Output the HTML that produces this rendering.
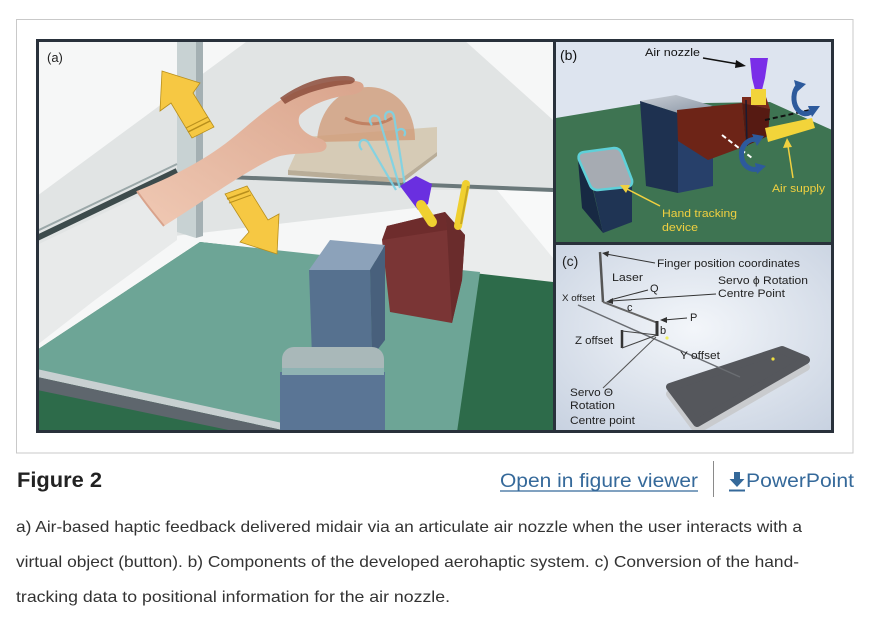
<!DOCTYPE html>
<html><head><meta charset="utf-8"><style>
html,body{margin:0;padding:0;background:#fff;width:872px;height:625px;overflow:hidden}
svg{display:block}
</style></head><body>
<svg width="872" height="625" viewBox="0 0 872 625" xmlns="http://www.w3.org/2000/svg" font-family="'Liberation Sans', Arial, sans-serif">
<defs>
<clipPath id="ca"><rect x="39" y="42" width="514" height="388"/></clipPath>
<clipPath id="cb"><rect x="556" y="42" width="275" height="200"/></clipPath>
<clipPath id="cc"><rect x="556" y="245" width="275" height="185"/></clipPath>
<radialGradient id="gc" cx="0.5" cy="0.45" r="0.75"><stop offset="0" stop-color="#f3f6fa"/><stop offset="1" stop-color="#c7d1e0"/></radialGradient>
<linearGradient id="skin" x1="0" y1="1" x2="1" y2="0"><stop offset="0" stop-color="#f0c9b4"/><stop offset="1" stop-color="#d9a48c"/></linearGradient>
<linearGradient id="navytop" x1="0" y1="0" x2="1" y2="1"><stop offset="0" stop-color="#c9ced5"/><stop offset="1" stop-color="#8a96a6"/></linearGradient>
</defs>
<rect width="872" height="625" fill="#fff"/>
<rect x="16.5" y="19.5" width="836.5" height="433.5" fill="none" stroke="#c9c9c9"/>
<rect x="36" y="39" width="798" height="394" fill="#29313b"/>

<!-- PANEL A -->
<g clip-path="url(#ca)">
<rect x="38" y="41" width="516" height="390" fill="#f6f7f7"/>
<polygon points="250,39 463,39 553,120 553,192 37,252 37,196" fill="#e1e4e4"/>
<polygon points="37,245 177,178 177,240 95,300 37,345" fill="#e8eaea"/>
<polygon points="420,190 553,190 553,286 460,276" fill="#eaecec"/>
<polygon points="497,190 553,190 553,258" fill="#f8f9f9"/>
<polygon points="200,242 553,282 553,432 37,432 37,350" fill="#2d6b4a"/>
<polygon points="200,242 480,272 457,432 300,432 37,372 37,350" fill="#6da596"/>
<polygon points="37,369 305,428 305,435 37,377" fill="#c8d0d1"/>
<polygon points="37,377 305,435 305,446 37,390" fill="#5e666d"/>
<!-- pole -->
<polygon points="177,39 196,39 196,238 177,232" fill="#c8d2d3"/>
<polygon points="196,39 203,39 203,236 196,238" fill="#a4b0b3"/>
<!-- rods -->
<line x1="37" y1="238" x2="177" y2="171" stroke="#3d4b4c" stroke-width="6"/>
<line x1="37" y1="231" x2="177" y2="164" stroke="#9aa7a8" stroke-width="2"/>
<line x1="203" y1="176" x2="553" y2="190" stroke="#6a787a" stroke-width="4"/>
<!-- button plate & dome -->
<polygon points="288,170 303,137 437,127 437,152 402,178" fill="#d5c9b2" opacity="0.92"/>
<polygon points="288,170 402,178 437,152 437,156 402,183 288,175" fill="#b9ad98"/>
<path d="M317,142 C318,110 340,87 368,87 C395,87 415,108 415,140 Z" fill="#d19c7b" opacity="0.8"/>
<path d="M345,118 C360,126 380,126 392,118" stroke="#b86f50" stroke-width="3" fill="none" opacity="0.7"/>
<!-- swirls -->
<g stroke="#7cd3e6" stroke-width="2.2" fill="none" opacity="0.9">
<path d="M372,125 C366,118 374,112 379,118 L400,188"/>
<path d="M386,120 C382,112 392,108 394,116 L405,186"/>
<path d="M362,150 C356,144 362,136 368,142 L396,190"/>
<path d="M396,132 C400,126 408,130 404,136"/>
</g>
<!-- hand -->
<path d="M137,191 C170,178 205,160 230,140 C255,120 275,100 300,90 C320,82 345,78 360,82 C368,86 362,94 350,95 C330,97 310,105 300,115 C295,125 305,135 318,138 C328,140 330,150 320,152 C300,155 285,152 270,160 C245,172 205,200 164,226 C155,215 145,203 137,191 Z" fill="url(#skin)"/>
<path d="M280,98 C300,84 320,76 345,76 C356,76 358,82 350,84 C330,86 305,92 285,104 Z" fill="#8d4d3c" opacity="0.85"/>
<path d="M137,191 C145,203 155,215 164,226" stroke="#d9a38c" stroke-width="2" fill="none"/>
<!-- arrows -->
<polygon points="162,71 200,83 193,93 214,127 192,138 171,103 160,111" fill="#f6c843" stroke="#b88f1c" stroke-width="0.8"/>
<line x1="188" y1="132" x2="210" y2="121" stroke="#b88f1c" stroke-width="1.5"/>
<line x1="186" y1="128" x2="208" y2="117" stroke="#b88f1c" stroke-width="1"/>
<polygon points="225,194 247,186 268,220 279,214 277,254 240,242 249,232" fill="#f6c843" stroke="#b88f1c" stroke-width="0.8"/>
<line x1="227" y1="199" x2="249" y2="191" stroke="#b88f1c" stroke-width="1.5"/>
<line x1="229" y1="203" x2="251" y2="195" stroke="#b88f1c" stroke-width="1"/>
<!-- red box -->
<polygon points="387,226 445,212 465,235 462,280 452,323 390,312 382,240" fill="#7a3535"/>
<polygon points="445,212 465,235 462,280 452,323 447,230" fill="#6a2c2c"/>
<polygon points="387,226 445,212 447,230 382,240" fill="#6e2c2c"/>
<!-- nozzle -->
<polygon points="400,186 416,176 432,184 428,204 418,210" fill="#6a2fe0"/>
<line x1="421" y1="205" x2="432" y2="222" stroke="#f0d030" stroke-width="10" stroke-linecap="round"/>
<line x1="466" y1="184" x2="458" y2="226" stroke="#f0d030" stroke-width="8" stroke-linecap="round"/>
<line x1="468" y1="186" x2="461" y2="224" stroke="#c9a820" stroke-width="2"/>
<!-- blue box -->
<polygon points="309,270 330,240 385,245 370,270" fill="#8ca2ba"/>
<polygon points="309,270 370,270 372,357 312,357" fill="#56718f"/>
<polygon points="370,270 385,245 385,340 372,357" fill="#48607c"/>
<!-- bottom device -->
<rect x="282" y="347" width="102" height="32" rx="12" fill="#a9b8b9"/>
<rect x="280" y="372" width="105" height="62" fill="#5a7595"/>
<rect x="282" y="368" width="102" height="7" fill="#8fb3b3"/>
<text x="47" y="62" font-size="13" fill="#222">(a)</text>
</g>

<!-- PANEL B -->
<g clip-path="url(#cb)">
<rect x="556" y="41" width="276" height="202" fill="#dde4ef"/>
<polygon points="556,118 640,104 770,102 832,130 832,242 556,242" fill="#3e7452"/>
<polygon points="640,101 676,95 713,106 678,113" fill="url(#navytop)"/>
<polygon points="640,101 678,113 678,193 646,186" fill="#1e3150"/>
<polygon points="678,113 713,106 713,186 678,193" fill="#27406a"/>
<polygon points="677,110 742,103 746,146 708,160 678,141" fill="#6d2417"/>
<polygon points="742,103 770,109 768,136 746,146" fill="#561a12"/>
<polygon points="742,97 766,97 770,109 742,103" fill="#7a2a1c"/>
<line x1="746" y1="100" x2="747" y2="146" stroke="#1a1a30" stroke-width="1.5"/>
<polygon points="750,58 768,58 765,78 762,90 755,90 752,78" fill="#7a2ee8"/>
<rect x="751" y="89" width="15" height="16" fill="#f2d43a"/>
<polygon points="765,128 812,118 815,128 768,142" fill="#f2d43a"/>
<line x1="765" y1="120" x2="810" y2="110" stroke="#111" stroke-width="2" stroke-dasharray="5,3"/>
<line x1="722" y1="135" x2="752" y2="158" stroke="#fff" stroke-width="2" stroke-dasharray="5,3"/>
<path d="M798,86 A11,15 0 1 0 813,110" stroke="#2d5a9c" stroke-width="5" fill="none"/>
<polygon points="794,80 806,84 797,92" fill="#2d5a9c"/>
<polygon points="808,106 820,106 812,117" fill="#2d5a9c"/>
<path d="M758,140 A13,15 0 1 0 760,168" stroke="#2d5a9c" stroke-width="5" fill="none"/>
<polygon points="752,134 764,136 757,146" fill="#2d5a9c"/>
<polygon points="755,163 766,166 757,174" fill="#2d5a9c"/>
<!-- tracking device -->
<polygon points="578,160 593,190 603,233 582,208" fill="#172943"/>
<polygon points="593,188 632,183 632,222 603,233" fill="#1f3454"/>
<path d="M584,152 L614,148 Q620,148 622,154 L632,180 Q633,186 627,187 L598,190 Q592,190 590,185 L579,160 Q577,153 584,152 Z" fill="#a6abb2" stroke="#5fd0d8" stroke-width="2.5"/>
<text x="560" y="60" font-size="14" fill="#111">(b)</text>
<text x="645" y="56" font-size="11" fill="#111" textLength="55" lengthAdjust="spacingAndGlyphs">Air nozzle</text>
<line x1="703" y1="58" x2="738" y2="64" stroke="#111" stroke-width="1.5"/>
<polygon points="746,66 736,60 735,68" fill="#111"/>
<text x="772" y="192" font-size="11" fill="#f0d040" textLength="53" lengthAdjust="spacingAndGlyphs">Air supply</text>
<line x1="793" y1="178" x2="788" y2="146" stroke="#f0d040" stroke-width="1.5"/>
<polygon points="787,138 783,148 792,147" fill="#f0d040"/>
<text x="662" y="217" font-size="11" fill="#f0d040" textLength="75" lengthAdjust="spacingAndGlyphs">Hand tracking</text>
<text x="662" y="231" font-size="11" fill="#f0d040" textLength="36" lengthAdjust="spacingAndGlyphs">device</text>
<line x1="660" y1="206" x2="627" y2="189" stroke="#f0d040" stroke-width="1.5"/>
<polygon points="620,185 630,185 626,193" fill="#f0d040"/>
</g>

<!-- PANEL C -->
<g clip-path="url(#cc)">
<rect x="556" y="244" width="276" height="188" fill="url(#gc)"/>
<!-- slab -->
<path d="M670,394 L782,357 L806,367 L697,430 Z" fill="#c9cbce" stroke="#c9cbce" stroke-width="8" stroke-linejoin="round"/>
<path d="M670,387 L782,350 L806,360 L697,423 Z" fill="#55575c" stroke="#55575c" stroke-width="8" stroke-linejoin="round"/>
<circle cx="773" cy="359" r="1.6" fill="#f0e040"/>
<circle cx="667" cy="338" r="1.6" fill="#f0f060"/>
<line x1="578" y1="305" x2="740" y2="377" stroke="#6a6d72" stroke-width="1.5"/>
<line x1="600" y1="252" x2="603" y2="302" stroke="#555" stroke-width="2.5"/>
<line x1="603" y1="302" x2="658" y2="323" stroke="#666" stroke-width="2"/>
<line x1="657" y1="321" x2="657" y2="336" stroke="#333" stroke-width="3"/>
<line x1="622" y1="330" x2="622" y2="348" stroke="#333" stroke-width="2.5"/>
<polyline points="622,331 657,335 622,348" fill="none" stroke="#444" stroke-width="1"/>
<line x1="603" y1="388" x2="656" y2="337" stroke="#555" stroke-width="1"/>
<g stroke="#333" stroke-width="1" fill="none">
<line x1="655" y1="263" x2="606" y2="254"/>
<line x1="716" y1="294" x2="611" y2="301"/>
<line x1="648" y1="290" x2="610" y2="300"/>
<line x1="687" y1="318" x2="664" y2="320"/>
</g>
<polygon points="602,253 609,251 608,257" fill="#333"/>
<polygon points="606,302 613,298 613,304" fill="#333"/>
<polygon points="660,320 667,317 667,323" fill="#333"/>
<g fill="#222">
<text x="562" y="266" font-size="14">(c)</text>
<text x="657" y="267" font-size="11" textLength="143" lengthAdjust="spacingAndGlyphs">Finger position coordinates</text>
<text x="612" y="281" font-size="11" textLength="31" lengthAdjust="spacingAndGlyphs">Laser</text>
<text x="718" y="284" font-size="11" textLength="90" lengthAdjust="spacingAndGlyphs">Servo ϕ Rotation</text>
<text x="718" y="297" font-size="11" textLength="67" lengthAdjust="spacingAndGlyphs">Centre Point</text>
<text x="650" y="292" font-size="11">Q</text>
<text x="627" y="311" font-size="11">c</text>
<text x="562" y="301" font-size="9" textLength="33" lengthAdjust="spacingAndGlyphs">X offset</text>
<text x="690" y="321" font-size="11">P</text>
<text x="660" y="334" font-size="11">b</text>
<text x="575" y="344" font-size="11" textLength="38" lengthAdjust="spacingAndGlyphs">Z offset</text>
<text x="680" y="359" font-size="11" textLength="40" lengthAdjust="spacingAndGlyphs">Y offset</text>
<text x="570" y="396" font-size="11" textLength="43" lengthAdjust="spacingAndGlyphs">Servo Θ</text>
<text x="570" y="409" font-size="11" textLength="45" lengthAdjust="spacingAndGlyphs">Rotation</text>
<text x="570" y="424" font-size="11" textLength="65" lengthAdjust="spacingAndGlyphs">Centre point</text>
</g>
</g>

<!-- separators -->
<rect x="553" y="39" width="3" height="394" fill="#29313b"/>
<rect x="556" y="242" width="278" height="3" fill="#29313b"/>

<!-- caption -->
<text x="17" y="487" font-size="21" font-weight="bold" fill="#222" textLength="85" lengthAdjust="spacingAndGlyphs">Figure 2</text>
<text x="500" y="487" font-size="19" fill="#35699a" textLength="198" lengthAdjust="spacingAndGlyphs">Open in figure viewer</text>
<line x1="500" y1="491" x2="698" y2="491" stroke="#35699a" stroke-width="1.2"/>
<line x1="713.5" y1="461" x2="713.5" y2="497" stroke="#8a8a8a" stroke-width="1"/>
<rect x="734" y="472" width="6" height="8" fill="#35699a"/>
<polygon points="729.5,479 744.5,479 737,487" fill="#35699a"/>
<line x1="729" y1="490.5" x2="745" y2="490.5" stroke="#35699a" stroke-width="2"/>
<text x="746" y="487" font-size="19" fill="#35699a" textLength="108" lengthAdjust="spacingAndGlyphs">PowerPoint</text>
<g font-size="16" fill="#333">
<text x="16" y="532" textLength="786" lengthAdjust="spacingAndGlyphs">a) Air-based haptic feedback delivered midair via an articulate air nozzle when the user interacts with a</text>
<text x="16" y="567" textLength="783" lengthAdjust="spacingAndGlyphs">virtual object (button). b) Components of the developed aerohaptic system. c) Conversion of the hand-</text>
<text x="16" y="602" textLength="434" lengthAdjust="spacingAndGlyphs">tracking data to positional information for the air nozzle.</text>
</g>
</svg>
</body></html>
